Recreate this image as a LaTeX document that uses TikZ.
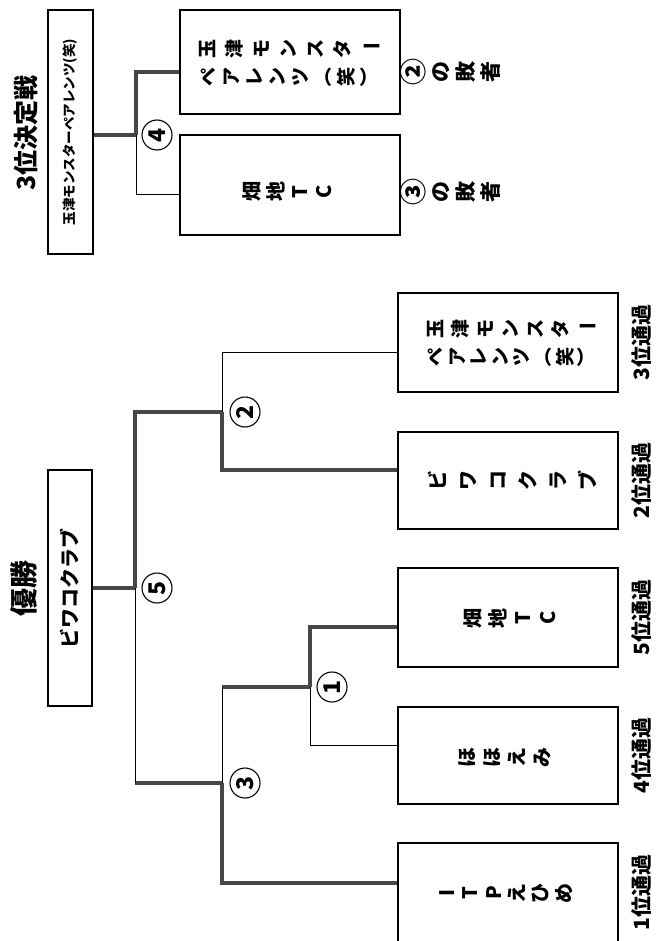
\documentclass[tikz,border=0pt]{standalone}
\usepackage{fontspec}
\usepackage{graphicx}
\newfontfamily\jpfont{Noto Sans CJK JP}
\newcommand{\tatesz}[2]{\jpfont\bfseries\fontsize{#1}{#2}\selectfont}
\newcommand{\marunum}[1]{{\fontsize{27}{25}\selectfont #1}}
% glyphs that stand upright in vertical writing
\newcommand{\tbar}{\rotatebox[origin=c]{-90}{ー}}
\newcommand{\tlp}{\rotatebox[origin=c]{-90}{（}}
\newcommand{\trp}{\rotatebox[origin=c]{-90}{）}}
\usetikzlibrary{positioning}
\tikzstyle{teambox} = [draw, line width=1.2pt, minimum width=220pt,
minimum height=99pt, inner sep=0pt]
\tikzstyle{win} = [draw, line width=3.6pt, color=black!72]
\tikzstyle{lose} = [draw, line width=1pt, color=black]

\begin{document}
\begin{tikzpicture}[x=1pt, y=-1pt,
	tate/.style={rotate=90, align=center, inner sep=0pt},
	yoko/.style={rotate=90, inner sep=0pt, font=\jpfont\bfseries},
	matchno/.style={draw, circle, line width=1.1pt, minimum size=30pt,
		inner sep=0pt, rotate=90,
		font=\jpfont\bfseries\fontsize{23}{23}\selectfont}]
	\useasboundingbox[fill=white] (0,0) rectangle (655,941);
	%% 3rd place match
	\node [yoko, font=\jpfont\bfseries\fontsize{25}{25}\selectfont] (Title3) at (26,133) {3位決定戦};
	\node [draw, line width=1.2pt, minimum width=45pt, minimum height=244pt] (Third) at (70.5,132) {};
	\node [yoko, font=\jpfont\bfseries\fontsize{13.5}{13.5}\selectfont] (ThirdName) at (Third) {玉津モンスターペアレンツ(笑)};
	\node [teambox, minimum height=104pt] (LoserA) at (290,62) {};
	\node [teambox, minimum height=100pt] (LoserB) at (290,185) {};
	\node [tate, font=\tatesz{19}{27}] (LoserAa) at (290,49) {玉\\津\\モ\\ン\\ス\\タ\\\tbar};
	\node [tate, font=\tatesz{19}{23}] (LoserAb) at (290,77) {ペ\\ア\\レ\\ン\\ツ\\\tlp\\笑\\\trp};
	\node [tate, font=\tatesz{20}{24}] (LoserBa) at (287,192) {畑\\地\\T\\C};
	\node [tate, font=\tatesz{21}{25}] (FromA) at (450,72) {\marunum{②}\\の\\敗\\者};
	\node [tate, font=\tatesz{21}{25}] (FromB) at (450,192) {\marunum{③}\\の\\敗\\者};
	\coordinate (M4) at (136,135);
	\node [matchno] (N4) at ([xshift=21pt]M4) {4};
	\path [win] ([yshift=-10pt]LoserA.west) -| (M4);
	\path [lose] ([yshift=-10pt]LoserB.west) -| (M4);
	\path [win] (M4) -- (M4 -| Third.east);
	%% Main bracket
	\node [yoko, font=\jpfont\bfseries\fontsize{28}{28}\selectfont] (Title1) at (24,588) {優勝};
	\node [draw, line width=1.2pt, minimum width=44pt, minimum height=236pt] (Champ) at (70,588) {};
	\node [yoko, font=\jpfont\bfseries\fontsize{20}{20}\selectfont] (ChampName) at (Champ) {ビワコクラブ};
	\node [teambox] (T3) at (508,342.5) {};
	\node [teambox, minimum height=97pt] (T2) at (508,480.5) {};
	\node [teambox] (T5) at (508,617.5) {};
	\node [teambox, minimum height=97pt] (T4) at (508,755.5) {};
	\node [teambox] (T1) at (508,892.5) {};
	\node [tate, font=\tatesz{19}{25}] (T3a) at (512,329) {玉\\津\\モ\\ン\\ス\\タ\\\tbar};
	\node [tate, font=\tatesz{19}{21.6}] (T3b) at (512,357) {ペ\\ア\\レ\\ン\\ツ\\\tlp\\笑\\\trp};
	\node [tate, font=\tatesz{20}{30}] (T2a) at (512,480) {ビ\\ワ\\コ\\ク\\ラ\\ブ};
	\node [tate, font=\tatesz{20}{25}] (T5a) at (510,618) {畑\\地\\T\\C};
	\node [tate, font=\tatesz{20}{25}] (T4a) at (505,757) {ほ\\ほ\\え\\み};
	\node [tate, font=\tatesz{20}{23.4}] (T1a) at (506,893) {I\\T\\P\\え\\ひ\\め};
	\foreach \r/\t in {3/T3, 2/T2, 5/T5, 4/T4, 1/T1}
		\node [yoko, font=\jpfont\bfseries\fontsize{21}{21}\selectfont] (Rank\r) at (641,0 |- \t) {\r 位通過};
	\coordinate (M1) at (310,687);
	\coordinate (M2) at (222,412);
	\coordinate (M3) at (222,783);
	\coordinate (M5) at (135,588);
	\node [matchno] (N1) at ([xshift=22pt]M1) {1};
	\node [matchno] (N2) at ([xshift=23pt]M2) {2};
	\node [matchno] (N3) at ([xshift=23pt]M3) {3};
	\node [matchno] (N5) at ([xshift=22pt]M5) {5};
	%% Flows
	\path [lose] ([yshift=-9.5pt]T3.west) -| (M2);
	\path [win] ([yshift=10.5pt]T2.west) -| (M2);
	\path [win] ([yshift=-9.5pt]T5.west) -| (M1);
	\path [lose] ([yshift=10.5pt]T4.west) -| (M1);
	\path [win] (M1) -- (M1 -| M3);
	\path [lose] (M1 -| M3) -- (M3);
	\path [win] ([yshift=9.5pt]T1.west) -| (M3);
	\path [win] (M3) -- (M3 -| M5);
	\path [lose] (M3 -| M5) -- (M5);
	\path [win] (M2) -| (M5);
	\path [win] (M5) -- (M5 -| Champ.east);
\end{tikzpicture}
\end{document}
